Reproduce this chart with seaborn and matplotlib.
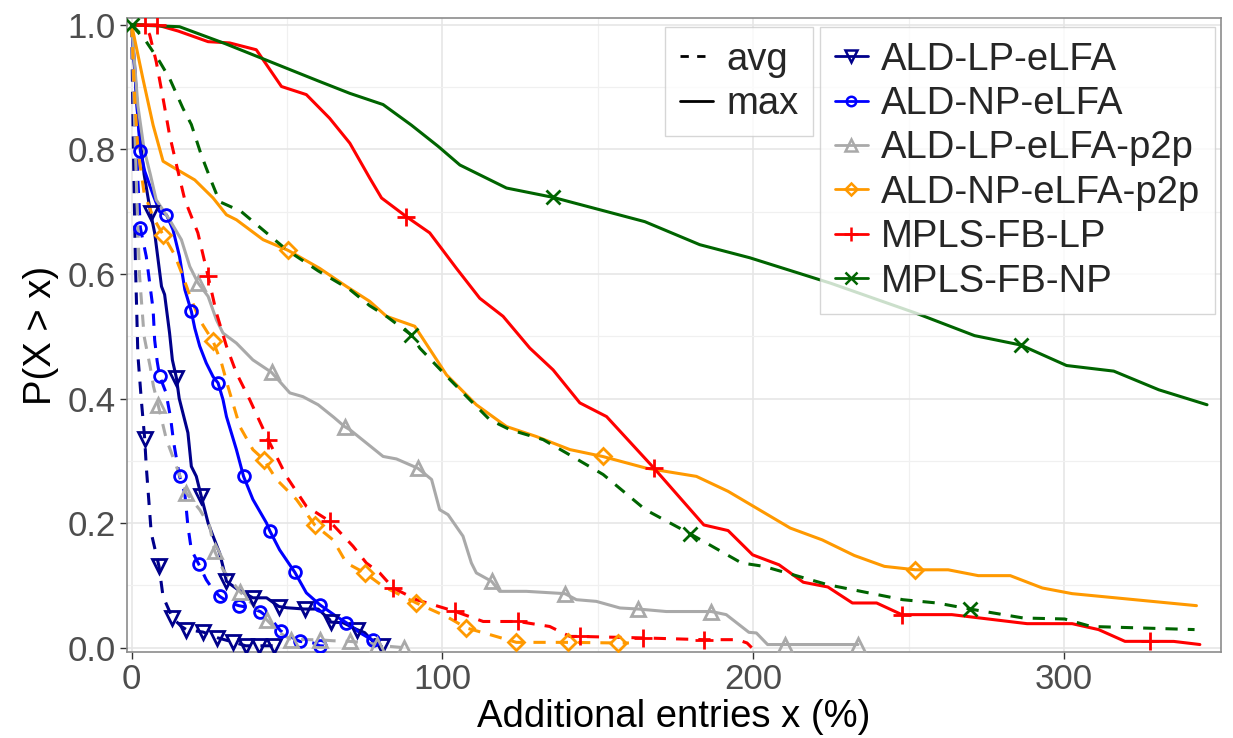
import numpy as np
import pandas as pd
import matplotlib
matplotlib.use("Agg")
import matplotlib.pyplot as plt
from matplotlib.lines import Line2D
import seaborn as sns

# ---------------- data ----------------
series_names = ["ALD-LP-eLFA", "ALD-NP-eLFA", "ALD-LP-eLFA-p2p",
                "ALD-NP-eLFA-p2p", "MPLS-FB-LP", "MPLS-FB-NP"]

# ALD-LP-eLFA
lp_avg_x = [0, 0.5, 1.2, 2, 3.1, 4.2, 4.7, 6.3, 8.8, 10.1, 13.1, 16, 17.6, 23, 27.5, 32.6, 36.7, 41, 45.7, 47]
lp_avg_y = [1.0, 0.82, 0.62, 0.47, 0.398, 0.335, 0.291, 0.184, 0.1305, 0.082, 0.048, 0.034, 0.029, 0.025, 0.016, 0.009, 0.003, 0.003, 0.003, 0.002]
lp_avg_mk = [4.2, 8.8, 13.1, 17.6, 23, 27.5, 32.6, 36.7, 41, 45.7]
lp_max_x = [0, 2, 4, 6.1, 7.4, 8.5, 9.6, 10.6, 12.2, 13.1, 14.4, 15.3, 18.1, 19.2, 20.8, 22.4, 24.6, 26.2, 28.3, 29.4,
            30.5, 34.2, 39, 43.4, 47.4, 50, 55.7, 60, 63.7, 64, 68, 72.5, 75, 78, 80.4]
lp_max_y = [1.0, 0.85, 0.76, 0.698, 0.666, 0.623, 0.58, 0.567, 0.505, 0.462, 0.433, 0.40, 0.345, 0.291, 0.275, 0.243,
            0.200, 0.179, 0.152, 0.13, 0.1065, 0.093, 0.080, 0.080, 0.066, 0.064, 0.062, 0.062, 0.045, 0.041, 0.040,
            0.029, 0.024, 0.008, 0.002]
lp_max_mk = [6.1, 14.4, 22.4, 30.5, 39, 47.4, 55.7, 64, 72.5, 80.4]

# ALD-NP-eLFA
np_avg_x = [0, 1, 2, 2.8, 4.7, 6.9, 7.4, 8.2, 9, 11, 12.5, 13.5, 15.4, 17.1, 18.1, 19.2, 21.6, 24, 26.2, 28.3, 31.5,
            34.5, 38, 41.4, 45.5, 47.9, 50.9, 54.1, 58.4, 60.5, 64.3]
np_avg_y = [1.0, 0.88, 0.75, 0.674, 0.628, 0.543, 0.494, 0.46, 0.436, 0.41, 0.37, 0.33, 0.275, 0.248, 0.195, 0.157,
            0.134, 0.109, 0.093, 0.0824, 0.072, 0.0674, 0.064, 0.058, 0.042, 0.027, 0.018, 0.010, 0.0075, 0.003, 0.002]
np_avg_mk = [2.8, 9, 15.4, 21.6, 28.3, 34.5, 41.4, 47.9, 54.1, 60.5]
np_max_x = [0, 1, 2, 2.8, 4.2, 6.9, 9, 11.2, 13.3, 15.4, 17.1, 19.2, 20.3, 21.9, 24, 26.2, 27.8, 29.4, 30.5, 33.7, 36,
            39, 43.4, 44.4, 47.6, 52.5, 56.2, 60.5, 65.9, 69.1, 73.4, 77.5, 80]
np_max_y = [1.0, 0.93, 0.85, 0.797, 0.765, 0.727, 0.70, 0.695, 0.671, 0.628, 0.575, 0.540, 0.513, 0.484, 0.457, 0.435,
            0.425, 0.398, 0.371, 0.318, 0.275, 0.238, 0.200, 0.188, 0.157, 0.121, 0.088, 0.069, 0.050, 0.040, 0.024,
            0.012, 0.005]
np_max_mk = [2.8, 11.2, 19.2, 27.8, 36, 44.4, 52.5, 60.5, 69.1, 77.5]

# ALD-LP-eLFA-p2p
lpp_avg_x = [0, 1.5, 2.5, 4, 6, 7, 8.5, 11.2, 14.4, 17.6, 21.9, 25.1, 26.7, 29.4, 34.8, 39, 43.4, 47.6, 51.4, 55, 60.5,
             65, 70.2, 75, 78.9, 83, 87.5]
lpp_avg_y = [1.0, 0.75, 0.6, 0.5, 0.45, 0.42, 0.39, 0.334, 0.291, 0.248, 0.2215, 0.195, 0.155, 0.125, 0.090, 0.069,
             0.045, 0.0236, 0.013, 0.013, 0.0125, 0.011, 0.010, 0.008, 0.005, 0.002, 0.0]
lpp_avg_mk = [8.5, 17.6, 26.7, 34.8, 43.4, 51.4, 60.5, 70.2, 78.9, 87.5]
lpp_max_x = [0, 2, 4, 6, 7.9, 12.2, 16, 18.7, 21.3, 24.6, 27.3, 29.4, 33.7, 39, 45, 50.9, 55.1, 60, 65, 68.5, 70.2,
             80.9, 85.2, 92.1, 96.5, 99.1, 101.8, 106.6, 109.3, 110.9, 115.8, 118.4, 127, 139.4, 143.1, 149.5, 157.1,
             163, 172, 186.5, 191.3, 198.6, 201, 204.6, 210.1, 233.7]
lpp_max_y = [1.0, 0.87, 0.80, 0.76, 0.719, 0.687, 0.655, 0.612, 0.586, 0.564, 0.526, 0.505, 0.489, 0.462, 0.442, 0.409,
             0.403, 0.39, 0.37, 0.355, 0.350, 0.307, 0.303, 0.288, 0.270, 0.2215, 0.2135, 0.179, 0.136, 0.120, 0.1065,
             0.0904, 0.0904, 0.0867, 0.077, 0.0743, 0.0637, 0.062, 0.058, 0.058, 0.053, 0.0246, 0.0236, 0.005, 0.005,
             0.005]
lpp_max_mk = [21.3, 45, 68.5, 92.1, 115.8, 139.4, 163, 186.5, 210.1, 233.7]

# ALD-NP-eLFA-p2p
npp_avg_x = [0, 1, 2, 4, 7, 10.1, 13.8, 16.5, 19.2, 21.9, 26.2, 28.9, 31, 34.8, 39, 42.5, 46.6, 53, 58.9, 64.8, 69.1,
             75, 80.9, 91.6, 101.3, 107.7, 115.2, 123.8, 140.4, 156.5, 160]
npp_avg_y = [1.0, 0.88, 0.80, 0.73, 0.69, 0.663, 0.631, 0.596, 0.559, 0.526, 0.492, 0.457, 0.419, 0.355, 0.318, 0.302,
             0.270, 0.238, 0.197, 0.173, 0.136, 0.120, 0.0984, 0.0717, 0.050, 0.0316, 0.021, 0.0085, 0.0085, 0.0075,
             0.0075]
npp_avg_mk = [10.1, 26.2, 42.5, 58.9, 75, 91.6, 107.7, 123.8, 140.4, 156.5]
npp_max_x = [0, 3.6, 6.9, 10.1, 13.8, 20.3, 26.2, 30.5, 33.7, 42.3, 50.3, 60.5, 69.1, 76.6, 82, 91.1, 101.3, 110.9,
             120.6, 130.2, 141, 151.5, 165.7, 181.7, 191.9, 211.9, 222.2, 232.5, 242.2, 252.2, 262.7, 272.4, 282.7,
             293, 302.6, 342.6]
npp_max_y = [1.0, 0.914, 0.839, 0.781, 0.770, 0.751, 0.722, 0.695, 0.687, 0.655, 0.638, 0.609, 0.580, 0.556, 0.532,
             0.516, 0.438, 0.390, 0.355, 0.339, 0.318, 0.307, 0.288, 0.275, 0.251, 0.192, 0.173, 0.148, 0.1305, 0.125,
             0.125, 0.1156, 0.1156, 0.0958, 0.0867, 0.0674]
npp_max_mk = [50.3, 151.5, 252.2]

# MPLS-FB-LP
flp_avg_x = [0, 4.2, 5.8, 7.9, 10.1, 12.2, 14.9, 17.1, 21.3, 24.6, 27.3, 30.5, 33.7, 38, 43.9, 49.8, 56.2, 63.7, 71.2,
             75.5, 79.8, 84.1, 91.6, 104, 113.1, 124.3, 134.5, 141, 144.2, 164.6, 184.1, 194.9, 198, 199.5]
flp_avg_y = [1.0, 1.0, 0.984, 0.941, 0.882, 0.823, 0.765, 0.719, 0.666, 0.596, 0.537, 0.484, 0.441, 0.398, 0.334,
             0.275, 0.227, 0.203, 0.163, 0.136, 0.120, 0.096, 0.077, 0.0583, 0.042, 0.042, 0.034, 0.018, 0.018,
             0.0156, 0.0128, 0.0128, 0.0075, 0.0]
flp_avg_mk = [4.2, 24.6, 43.9, 63.7, 84.1, 104, 124.3, 144.2, 164.6, 184.1]
flp_max_x = [0, 8, 15, 24.6, 31.5, 40.1, 48.2, 56.2, 63.7, 70.2, 76.6, 80.4, 88.4, 95.9, 104.5, 112, 119.5, 128.1,
             135.6, 144.2, 152.8, 168.1, 184.1, 191.9, 199.8, 208.3, 216.1, 224, 231.9, 239.7, 247.8, 263.9, 288.1,
             302.6, 311.1, 319.6, 327.8, 335.3, 343.7]
flp_max_y = [1.0, 1.0, 0.99, 0.973, 0.971, 0.960, 0.901, 0.888, 0.850, 0.810, 0.754, 0.722, 0.692, 0.666, 0.609,
             0.561, 0.532, 0.481, 0.446, 0.393, 0.371, 0.288, 0.197, 0.188, 0.149, 0.133, 0.105, 0.0974, 0.0717,
             0.0717, 0.053, 0.053, 0.0385, 0.0385, 0.029, 0.0101, 0.0101, 0.010, 0.005]
flp_max_mk = [8, 88.4, 168.1, 247.8, 327.8]

# MPLS-FB-NP
fnp_avg_x = [0, 4.7, 9, 12.2, 16.5, 19.2, 22.4, 25.7, 28.3, 33.2, 35.3, 49.8, 60, 70.2, 76.6, 82, 90, 92.7, 101.3,
             108.8, 115.2, 121.7, 132.4, 139.9, 151.7, 165.3, 179.8, 196.2, 203.4, 224, 248.1, 259.1, 269.7, 286.9,
             300.2, 308.7, 342]
fnp_avg_y = [1.0, 0.973, 0.941, 0.914, 0.866, 0.840, 0.791, 0.748, 0.716, 0.705, 0.700, 0.639, 0.605, 0.575, 0.549,
             0.532, 0.502, 0.481, 0.436, 0.398, 0.366, 0.350, 0.334, 0.3125, 0.278, 0.2215, 0.1825, 0.136, 0.1305,
             0.101, 0.077, 0.0717, 0.062, 0.0476, 0.046, 0.034, 0.029]
fnp_avg_mk = [0, 90, 179.8, 269.7]
fnp_max_x = [0, 15.4, 30, 45, 60, 70.2, 80.9, 90, 98.6, 105.6, 120.6, 135.6, 165.1, 182.8, 198.9, 225, 252.4, 271.2,
             286, 300.8, 316, 330.5, 346]
fnp_max_y = [1.0, 0.997, 0.97, 0.94, 0.91, 0.890, 0.872, 0.839, 0.805, 0.775, 0.738, 0.723, 0.684, 0.647, 0.626,
             0.585, 0.537, 0.501, 0.486, 0.453, 0.444, 0.414, 0.390]
fnp_max_mk = [135.6, 286]

x_ticks = [0, 100, 200, 300]
y_ticks = [0.0, 0.2, 0.4, 0.6, 0.8, 1.0]
y_tick_labels = ["0.0", "0.2", "0.4", "0.6", "0.8", "1.0"]
stat_labels = ["avg", "max"]

# ---------------- style ----------------
colors = ["#00008B", "#0000FF", "#A9A9A9", "#FF9900", "#FF0000", "#006400"]
markers = ["v", "o", "^", "D", "+", "x"]
msizes = [10, 8.5, 10, 8, 13, 10]

curves = [
    (lp_avg_x, lp_avg_y, lp_avg_mk, lp_max_x, lp_max_y, lp_max_mk),
    (np_avg_x, np_avg_y, np_avg_mk, np_max_x, np_max_y, np_max_mk),
    (lpp_avg_x, lpp_avg_y, lpp_avg_mk, lpp_max_x, lpp_max_y, lpp_max_mk),
    (npp_avg_x, npp_avg_y, npp_avg_mk, npp_max_x, npp_max_y, npp_max_mk),
    (flp_avg_x, flp_avg_y, flp_avg_mk, flp_max_x, flp_max_y, flp_max_mk),
    (fnp_avg_x, fnp_avg_y, fnp_avg_mk, fnp_max_x, fnp_max_y, fnp_max_mk),
]

sns.set_theme(style="white")
plt.rcParams["font.family"] = ["Liberation Sans", "DejaVu Sans"]

W, H = 1233, 738
fig = plt.figure(figsize=(W / 100, H / 100), dpi=100)
L, R, T, B = 127, 1221, 18, 652
ax = fig.add_axes([L / W, 1 - B / H, (R - L) / W, (B - T) / H])

LW = 2.2
DASH = (4.0, 3.3)


def draw(xs, ys, mk, color, marker, ms, dashed):
    df = pd.DataFrame({"x": xs, "y": ys})
    sns.lineplot(data=df, x="x", y="y", ax=ax, color=color, lw=LW, sort=False,
                 estimator=None, legend=False, zorder=3)
    line = ax.lines[-1]
    if dashed:
        line.set_dashes(DASH)
    xa, ya = np.asarray(xs, float), np.asarray(ys, float)
    idx = [int(np.argmin(np.abs(xa - m))) for m in mk]
    ax.plot(xa[idx], ya[idx], ls="none", marker=marker, ms=ms, mfc="none",
            mec=color, mew=2.0, zorder=4)


for (ax_, ay_, amk, mx_, my_, mmk), c, m, s in zip(curves, colors, markers, msizes):
    draw(ax_, ay_, amk, c, m, s, True)
    draw(mx_, my_, mmk, c, m, s, False)

ax.set_xlim(-1.5, 350.5)
ax.set_ylim(-0.007, 1.011)
ax.set_xticks(x_ticks)
ax.set_xticks([50, 150, 250], minor=True)
ax.set_yticks(y_ticks)
ax.set_yticklabels(y_tick_labels)
ax.set_yticks([0.1, 0.3, 0.5, 0.7, 0.9], minor=True)
ax.grid(which="major", color="#E6E6E6", lw=1.2, zorder=0)
ax.grid(which="minor", color="#F0F0F0", lw=0.9, zorder=0)
ax.set_axisbelow(True)
ax.tick_params(which="major", length=5, width=1.0, color="#333333", labelsize=25,
               labelcolor="#4D4D4D", pad=3, bottom=True, left=True)
ax.tick_params(which="minor", length=0)
for sp in ax.spines.values():
    sp.set_color("#8C8C8C")
    sp.set_linewidth(1.2)

ax.set_xlabel("Additional entries x (%)", fontsize=27.5, color="black", labelpad=2)
ax.set_ylabel("P(X > x)", fontsize=27.5, color="black", labelpad=6)

# legends
LEG = dict(fontsize=27.5, frameon=True, fancybox=False, edgecolor="#CCCCCC",
           handlelength=0.87, handletextpad=0.35, labelspacing=0.22,
           borderpad=0.38, borderaxespad=0, bbox_transform=fig.transFigure)
h1 = [Line2D([], [], color="black", lw=2, dashes=(3, 3)),
      Line2D([], [], color="black", lw=2)]
leg1 = ax.legend(handles=h1, labels=stat_labels, loc="upper left",
                 bbox_to_anchor=(665 / W, 1 - 27 / H), **LEG)
leg1.get_frame().set_linewidth(1.0)
ax.add_artist(leg1)

h2 = [Line2D([], [], color=c, lw=2, marker=m, ms=s * 0.8, mfc="none", mec=c, mew=1.8)
      for c, m, s in zip(colors, markers, msizes)]
leg2 = ax.legend(handles=h2, labels=series_names, loc="upper left",
                 bbox_to_anchor=(820 / W, 1 - 27 / H), **LEG)
leg2.get_frame().set_linewidth(1.0)

fig.savefig("out.png", dpi=100)
